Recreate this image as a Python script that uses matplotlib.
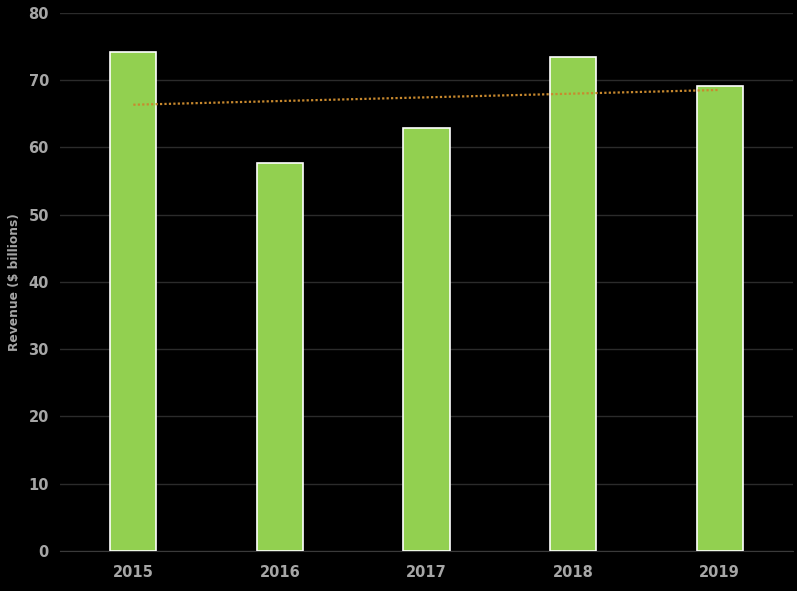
import numpy as np
import matplotlib.pyplot as plt

# revenue per year ($ billions)
years = ['2015', '2016', '2017', '2018', '2019']
revenue = [74.2, 57.7, 62.9, 73.4, 69.1]

fig = plt.figure(figsize=(7.97, 5.91), dpi=100, facecolor='black')
ax = fig.add_axes([0.0753, 0.0677, 0.9197, 0.9103])
ax.set_facecolor('black')

x = np.arange(len(years))
ax.bar(x, revenue, width=0.315, color='#92D050', edgecolor='white', linewidth=1.2, zorder=3)

# linear trendline
k, b = np.polyfit(x, revenue, 1)
ax.plot(x, k * x + b, linestyle=(0, (1, 1)), color='#C8892E', linewidth=1.6, zorder=4)

ax.set_xlim(-0.5, 4.5)
ax.set_ylim(0, 80)
ax.set_yticks(range(0, 81, 10))
ax.set_xticks(x)
ax.set_xticklabels(years)
ax.grid(axis='y', color='#2B2B2B', linewidth=1, zorder=0)
for s in ['top', 'right', 'left']:
    ax.spines[s].set_visible(False)
ax.spines['bottom'].set_color('#3A3A3A')
ax.tick_params(length=0, colors='#A6A6A6', labelsize=10.5, pad=10)
ax.tick_params(axis='y', pad=8)
for lbl in ax.get_xticklabels() + ax.get_yticklabels():
    lbl.set_fontweight('bold')

ax.set_ylabel('Revenue ($ billions)', color='#A6A6A6', fontsize=8.8, fontweight='bold', labelpad=5)

fig.savefig('out.png', dpi=100, facecolor='black')
